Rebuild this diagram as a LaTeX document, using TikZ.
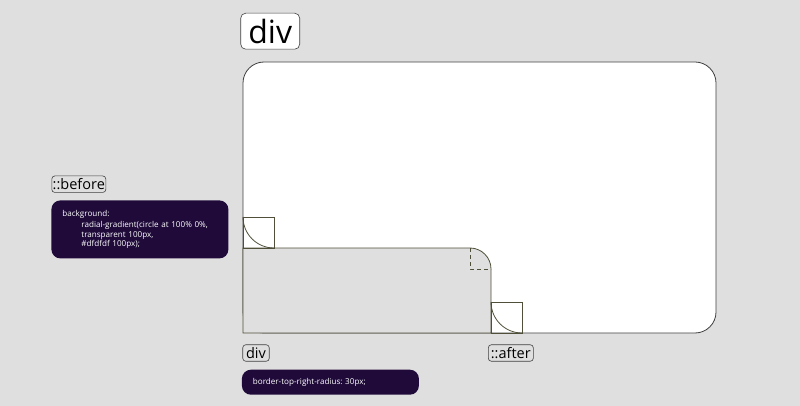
\documentclass[tikz,border=0pt]{standalone}
\usepackage{fontspec}
\setmainfont{Open Sans}
\definecolor{bg}{HTML}{DFDFDF}
\definecolor{codebg}{HTML}{1F0A3A}
\definecolor{edge}{HTML}{50503A}
\begin{document}
\begin{tikzpicture}[x=1pt, y=-1pt, line width=0.8pt,
    tag/.style={draw=black!75, line width=0.6pt, rounded corners=3pt, inner sep=0pt, minimum height=16.5pt, font=\fontsize{14.5}{14.5}\selectfont},
    code/.style={fill=codebg, rounded corners=9pt, text=white, inner xsep=11pt, align=left, anchor=north west, font=\fontsize{8.1}{9.6}\selectfont}]
    \fill [bg] (0,0) rectangle (800,406);
    \useasboundingbox (0,0) rectangle (800,406);
    % the div
    \draw [black!75, fill=white, rounded corners=21pt] (243,62) rectangle (716,333);
    \draw [edge, fill=bg] (243,333) -- (243,248) [rounded corners=21pt] -- (491,248) [sharp corners] -- (491,333) -- cycle;
    \draw [edge, dashed, dash pattern=on 4pt off 3pt] (470,248) |- (491,269);
    % ::before and ::after
    \draw [edge] (243,217) rectangle (274,248);
    \draw [edge] (243,217) [rounded corners=31pt] -- (243,248) -- (274,248);
    \draw [edge] (491,302) rectangle (522,333);
    \draw [edge] (491,302) [rounded corners=31pt] -- (491,333) -- (522,333);
    % labels
    \node [draw=black!75, line width=0.6pt, fill=white, rounded corners=5pt, minimum width=59pt, minimum height=36pt, inner sep=0pt, font=\fontsize{32}{32}\selectfont] (divtop) at (270.2,31.2) {div};
    \node [tag, minimum width=54pt] (before) at (78.8,184.2) {::before};
    \node [tag, minimum width=26.5pt] (divbot) at (256,353) {div};
    \node [tag, minimum width=45pt] (after) at (510.8,353) {::after};
    \node [code, minimum width=177pt, minimum height=58pt, text width=155pt] (beforecss) at (51,200)
        {background:\\[2pt]
        \hspace*{19pt}radial-gradient(circle at 100\% 0\%,\\
        \hspace*{19pt}transparent 100px,\\
        \hspace*{19pt}\#dfdfdf 100px);};
    \node [code, minimum width=177pt, minimum height=25pt, text width=155pt] (divcss) at (241.5,369.3)
        {border-top-right-radius:~30px;};
\end{tikzpicture}
\end{document}
